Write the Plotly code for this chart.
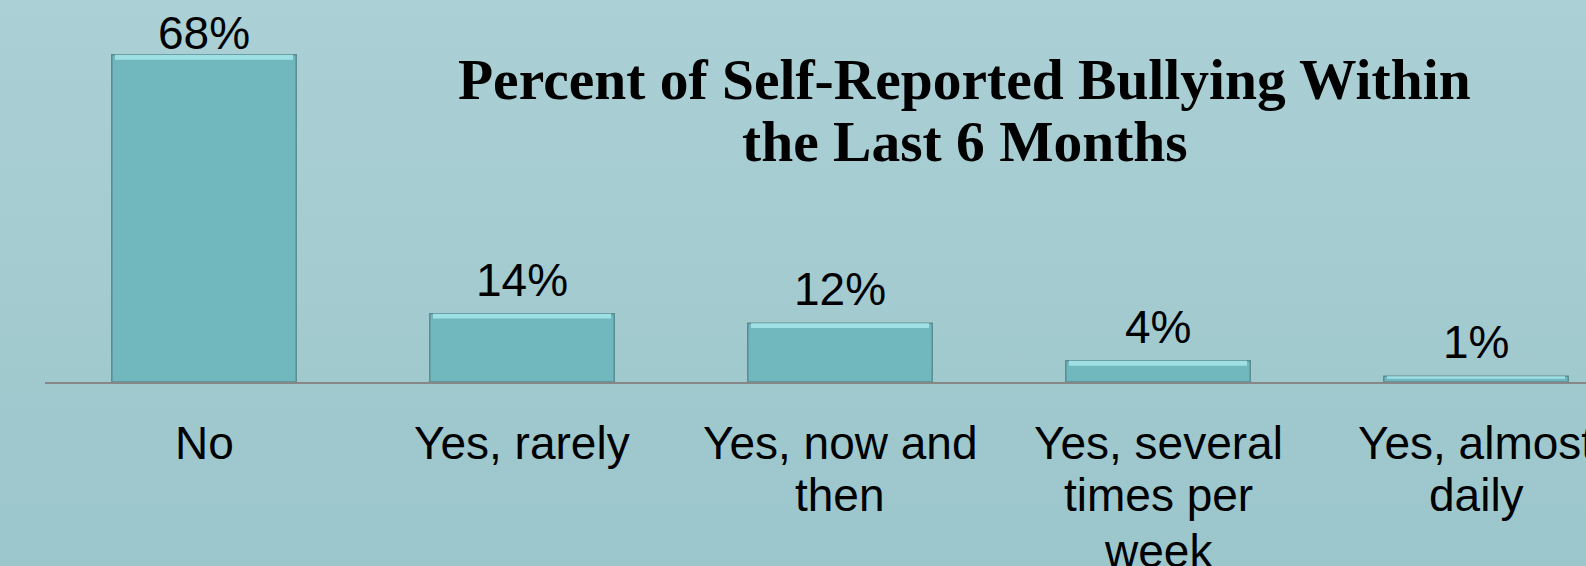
import base64
import plotly.graph_objects as go

# data
categories = ["No", "Yes, rarely", "Yes, now and then", "Yes, several times per week", "Yes, almost daily"]
label_lines = [["No"], ["Yes, rarely"], ["Yes, now and", "then"],
               ["Yes, several", "times per", "week"], ["Yes, almost", "daily"]]
percent = [68.0, 14.2, 12.2, 4.4, 1.2]

title_lines = ["Percent of Self-Reported Bullying Within", "the Last 6 Months"]

W, H = 1586, 566
ML, MB = 45, 184
Y_MAX = 79.4
SANS = "Liberation Sans, Arial, sans-serif"
SERIF = "Liberation Serif, Times New Roman, serif"

# soft vertical gradient for the slide background
svg = ('<svg xmlns="http://www.w3.org/2000/svg" width="100" height="100" preserveAspectRatio="none">'
       '<defs><linearGradient id="g" x1="0" y1="0" x2="0" y2="1">'
       '<stop offset="0" stop-color="#ABD0D5"/><stop offset="1" stop-color="#9BC6CB"/>'
       '</linearGradient></defs><rect width="100" height="100" fill="url(#g)"/></svg>')
bg_src = "data:image/svg+xml;base64," + base64.b64encode(svg.encode()).decode()

fig = go.Figure()

fig.add_trace(go.Bar(
    x=categories, y=percent,
    width=0.58,
    marker=dict(color="#70B8BE", line=dict(color="#5A8D92", width=1.5)),
    hoverinfo="skip",
))

# light bevel strip at the top of each bar
strip = [min(1.0, v * 0.45) for v in percent]
fig.add_trace(go.Bar(
    x=categories, y=strip, base=[v - s for v, s in zip(percent, strip)],
    width=0.56,
    marker=dict(color="#9FE0E4", line=dict(width=0)),
    hoverinfo="skip",
))

annotations = []
for cat, v in zip(categories, percent):
    annotations.append(dict(
        x=cat, y=v, xref="x", yref="y", text=f"{round(v)}%",
        showarrow=False, yanchor="bottom", yshift=-6 if v > 0.8 * Y_MAX else 6,
        font=dict(family=SANS, size=46, color="#000000"),
    ))

for cat, lines in zip(categories, label_lines):
    for i, line in enumerate(lines):
        annotations.append(dict(
            x=cat, y=0, xref="x", yref="paper", text=line,
            showarrow=False, yanchor="top", yshift=-33 - 52 * i - (4 if i == 2 else 0),
            font=dict(family=SANS, size=46, color="#000000"),
        ))

for i, line in enumerate(title_lines):
    annotations.append(dict(
        x=(965 - ML) / (W - ML), y=1, xref="paper", yref="paper", text=f"<b>{line}</b>",
        showarrow=False, yanchor="top", xanchor="center", yshift=-46 - 62 * i,
        font=dict(family=SERIF, size=57.5, color="#000000"),
    ))

fig.update_layout(
    width=W, height=H,
    margin=dict(l=ML, r=0, t=0, b=MB),
    paper_bgcolor="#A3CBD0",
    plot_bgcolor="rgba(0,0,0,0)",
    barmode="overlay",
    showlegend=False,
    annotations=annotations,
    images=[dict(
        source=bg_src, xref="paper", yref="paper",
        x=-ML / (W - ML), y=1, sizex=W / (W - ML), sizey=H / (H - MB),
        xanchor="left", yanchor="top", sizing="stretch", layer="below",
    )],
    xaxis=dict(
        range=[-0.5, -0.5 + (W - ML) / 318], showticklabels=False, ticks="",
        showline=True, linecolor="#878787", linewidth=1.5, showgrid=False, zeroline=False,
    ),
    yaxis=dict(range=[0, Y_MAX], visible=False, showgrid=False),
)

fig.write_html("out.html", config={"displayModeBar": False},
               post_script="document.body.style.margin='0';document.body.style.overflow='hidden';")
